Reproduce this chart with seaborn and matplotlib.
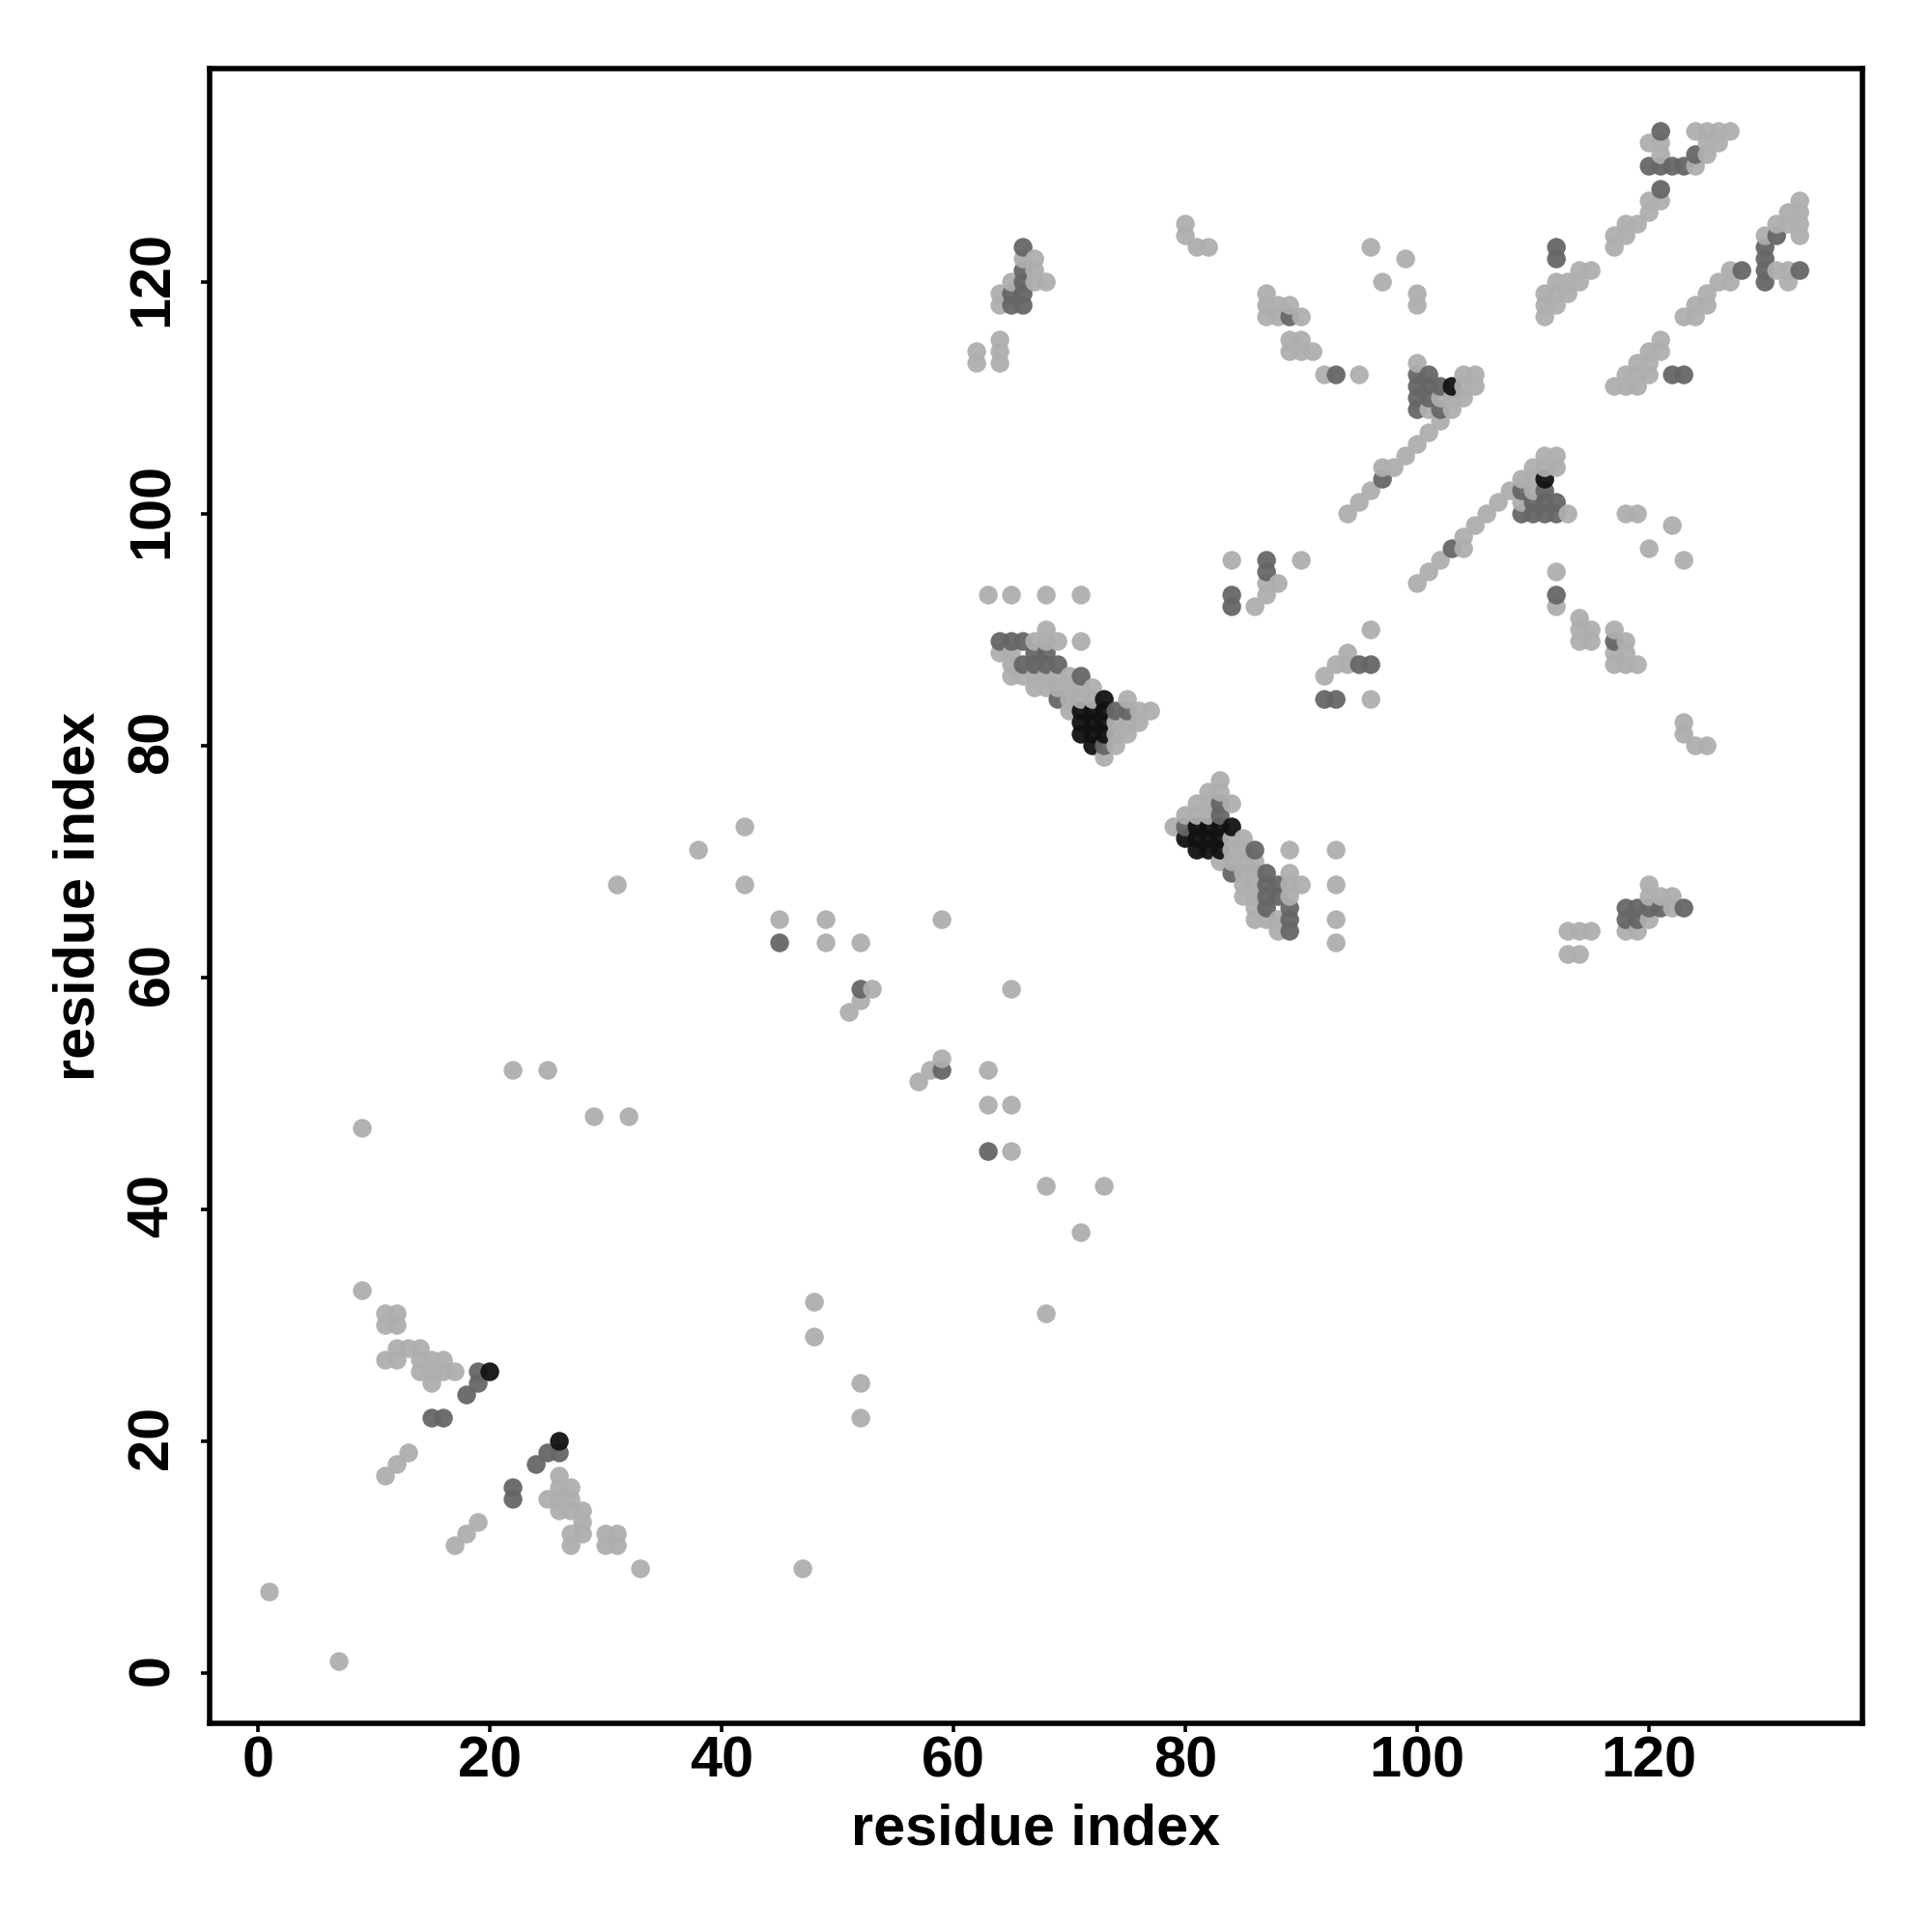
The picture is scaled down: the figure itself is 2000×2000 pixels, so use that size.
import matplotlib
matplotlib.use("Agg")
import matplotlib.pyplot as plt
from matplotlib.transforms import ScaledTranslation
import pandas as pd
import seaborn as sns

# Contact pairs (residue i, residue j), by shade level
light_pairs = [
    (1,7),(7,1),(47,9),(9,47),(9,33),(33,9),(22,52),(25,52),(29,48),(32,48),(48,32),(48,29),(52,25),(52,22),
    (68,31),(71,38),(68,42),(73,42),(65,45),(63,49),(65,49),(63,52),(59,53),(58,52),(57,51),(51,57),(52,58),
    (53,59),(65,59),(59,65),(52,63),(49,63),(49,65),(45,65),(42,68),(42,73),(38,71),(31,68),
    (11,31),(12,31),(11,30),(12,30),(12,28),(13,28),(14,28),(11,27),(12,27),(14,27),(15,27),(16,27),(14,26),
    (15,26),(16,26),(17,26),(15,25),(13,19),(12,18),(11,17),(26,17),(26,16),(27,16),(25,15),(26,15),(27,15),
    (26,14),(27,14),(28,14),(19,13),(28,13),(18,12),(27,12),(28,12),(30,12),(31,12),(17,11),(27,11),(30,11),(31,11),
    (63,93),(65,93),(68,93),(71,93),(68,90),(67,89),(68,89),(69,89),(71,89),(64,88),(65,88),(65,87),(65,86),
    (66,86),(67,86),(68,86),(69,86),(70,86),(67,85),(68,85),(69,85),(70,85),(71,85),(72,85),(70,84),(71,84),
    (72,84),(75,84),(70,83),(76,83),(77,83),(74,82),(75,82),(76,82),(74,81),(75,81),(74,80),(73,79),
    (79,73),(80,74),(81,74),(82,74),(81,75),(82,75),(82,76),(83,76),(83,77),(84,75),(84,72),(85,72),(84,71),
    (85,71),(83,70),(84,70),(85,70),(86,70),(85,69),(86,69),(89,69),(85,68),(86,68),(89,68),(90,68),(93,68),
    (85,67),(86,67),(89,67),(86,66),(86,65),(87,65),(88,65),(93,65),(88,64),(93,63),(89,71),(93,71),
    (80,125),(80,124),(81,123),(82,123),(66,122),(67,122),(67,121),(65,120),(67,120),(68,120),(64,119),(64,118),
    (64,115),(62,114),(64,114),(62,113),(64,113),(96,123),(99,122),(97,120),(87,119),(100,119),(87,118),(88,118),
    (89,118),(100,118),(87,117),(88,117),(90,117),(89,115),(90,115),(89,114),(90,114),(91,114),(100,113),(92,112),
    (95,112),(104,112),(105,112),(104,111),(105,111),(102,110),(103,110),(104,110),(101,109),(103,109),(102,108),
    (101,107),(100,106),(99,105),(97,104),(98,104),(96,102),(95,101),(94,100),
    (124,133),(125,133),(126,133),(127,133),(120,132),(121,132),(125,132),(126,132),(121,131),(125,131),(124,130),
    (120,127),(121,127),(120,126),(118,125),(119,125),(117,124),(118,124),(117,123),(130,124),(133,127),(132,126),
    (133,126),(131,125),(132,125),(133,125),(133,124),(114,121),(115,121),(127,121),(131,121),(132,121),(112,120),
    (113,120),(114,120),(126,120),(127,120),(132,120),(111,119),(112,119),(113,119),(125,119),(111,118),(112,118),
    (124,118),(125,118),(111,117),(123,117),(124,117),(121,115),(120,114),(121,114),(119,113),(120,113),(118,112),
    (119,112),(120,112),(117,111),(118,111),(119,111),(111,105),(112,105),(110,104),(111,104),(112,104),(109,103),
    (110,103),(108,102),(110,102),(107,101),(109,101),(106,100),(113,100),(118,100),(119,100),(122,99),(120,97),
    (123,96),(112,95),(112,92),(114,91),(114,90),(115,90),(117,90),(114,89),(115,89),(118,89),(117,88),(118,88),
    (117,87),(118,87),(119,87),(123,82),(123,81),(124,80),(125,80),(120,68),(120,67),(121,67),(122,67),(122,66),
    (120,65),(118,64),(119,64),(113,64),(114,64),(115,64),(113,62),(114,62),(105,99),(104,98),(104,97),(102,96),
    (101,95),(100,94),(96,90),(94,88),(93,87),(94,87),(92,86),(96,84),(84,96),(90,96),(87,94),(88,94),(87,93),(86,92),
]
mid_pairs = [
    (63,45),(59,52),(52,59),(45,63),(19,26),(19,25),(18,24),(15,22),(16,22),(25,19),(26,19),(24,18),(22,16),(22,15),
    (64,89),(65,89),(66,89),(67,88),(68,88),(66,87),(67,87),(68,87),(69,87),(71,86),(69,84),(74,83),(75,83),(73,80),
    (83,75),(83,74),(80,73),(86,71),(84,69),(87,69),(87,68),(88,68),(87,67),(88,67),(87,66),(89,66),(89,65),(89,64),
    (66,123),(66,121),(66,120),(65,119),(66,119),(65,118),(66,118),(89,117),(93,112),(100,112),(101,112),(100,111),
    (101,111),(102,111),(100,110),(101,110),(100,109),(102,109),(97,103),
    (121,133),(124,131),(120,130),(121,130),(122,130),(123,130),(121,128),(112,123),(112,122),(130,123),(130,122),
    (130,121),(130,120),(128,121),(133,121),(131,124),(122,112),(123,112),(109,102),(111,102),(110,101),(111,101),
    (112,101),(109,100),(110,100),(111,100),(112,100),(103,97),(112,93),(117,89),(118,66),(119,66),(120,66),(121,66),
    (123,66),(118,65),(119,65),(87,96),(87,95),(84,93),(84,92),(95,87),(96,87),(92,84),(93,84),
]
dark_pairs = [
    (20,26),(26,20),(73,84),(71,83),(72,83),(73,83),(71,82),(72,82),(73,82),(71,81),(72,81),(73,81),(72,80),
    (81,73),(82,73),(83,73),(84,73),(80,72),(81,72),(82,72),(83,72),(81,71),(82,71),(83,71),(103,111),(111,103),
]
x_ticks = [0, 20, 40, 60, 80, 100, 120]
y_ticks = [0, 20, 40, 60, 80, 100, 120]
axis_label = "residue index"

frames = []
for name, pairs in [("light", light_pairs), ("mid", mid_pairs), ("dark", dark_pairs)]:
    f = pd.DataFrame(pairs, columns=["i", "j"])
    f["level"] = name
    frames.append(f)
# marks are stacked by residue i, then residue j
data = pd.concat(frames).drop_duplicates(["i", "j"]).sort_values(["i", "j"])

sns.set_theme(style="white")
plt.rcParams["font.family"] = ["Liberation Sans", "DejaVu Sans"]

fig = plt.figure(figsize=(10, 10), dpi=200, facecolor="white")
ax = fig.add_axes([217/2000, 1 - 1784/2000, (1928 - 217)/2000, (1784 - 71)/2000])

sns.scatterplot(
    data=data, x="i", y="j", hue="level",
    palette={"light": "#aeaeae", "mid": "#666666", "dark": "#121212"},
    s=49, alpha=0.95, linewidth=0, legend=False, ax=ax, zorder=3,
)

ax.set_xlim(-4.17, 138.4)
ax.set_ylim(-4.33, 138.42)
ax.set_xticks(x_ticks)
ax.set_yticks(y_ticks)
ax.tick_params(axis="x", direction="out", length=3.2, width=1.3, color="black",
               labelsize=21.4, labelcolor="black", pad=1.4, bottom=True)
ax.tick_params(axis="y", direction="out", length=3.2, width=1.3, color="black",
               labelsize=21.4, labelcolor="black", pad=8.0, left=True)
for lab in ax.get_xticklabels():
    lab.set_fontweight("bold")
nudge_up = ScaledTranslation(0, 4 / 200, fig.dpi_scale_trans)
for lab in ax.get_yticklabels():
    lab.set_fontweight("bold")
    lab.set_rotation(90)
    lab.set_verticalalignment("center")
    lab.set_transform(lab.get_transform() + nudge_up)
for s in ax.spines.values():
    s.set_visible(True)
    s.set_color("black")
    s.set_linewidth(2.0)

ax.set_xlabel(axis_label, fontsize=21.4, fontweight="bold", color="black")
ax.set_ylabel(axis_label, fontsize=21.4, fontweight="bold", color="black")
ax.xaxis.set_label_coords(0.5, -0.048)
ax.yaxis.set_label_coords(-0.0627, 0.5)

fig.savefig("out.png", dpi=200, facecolor="white")
